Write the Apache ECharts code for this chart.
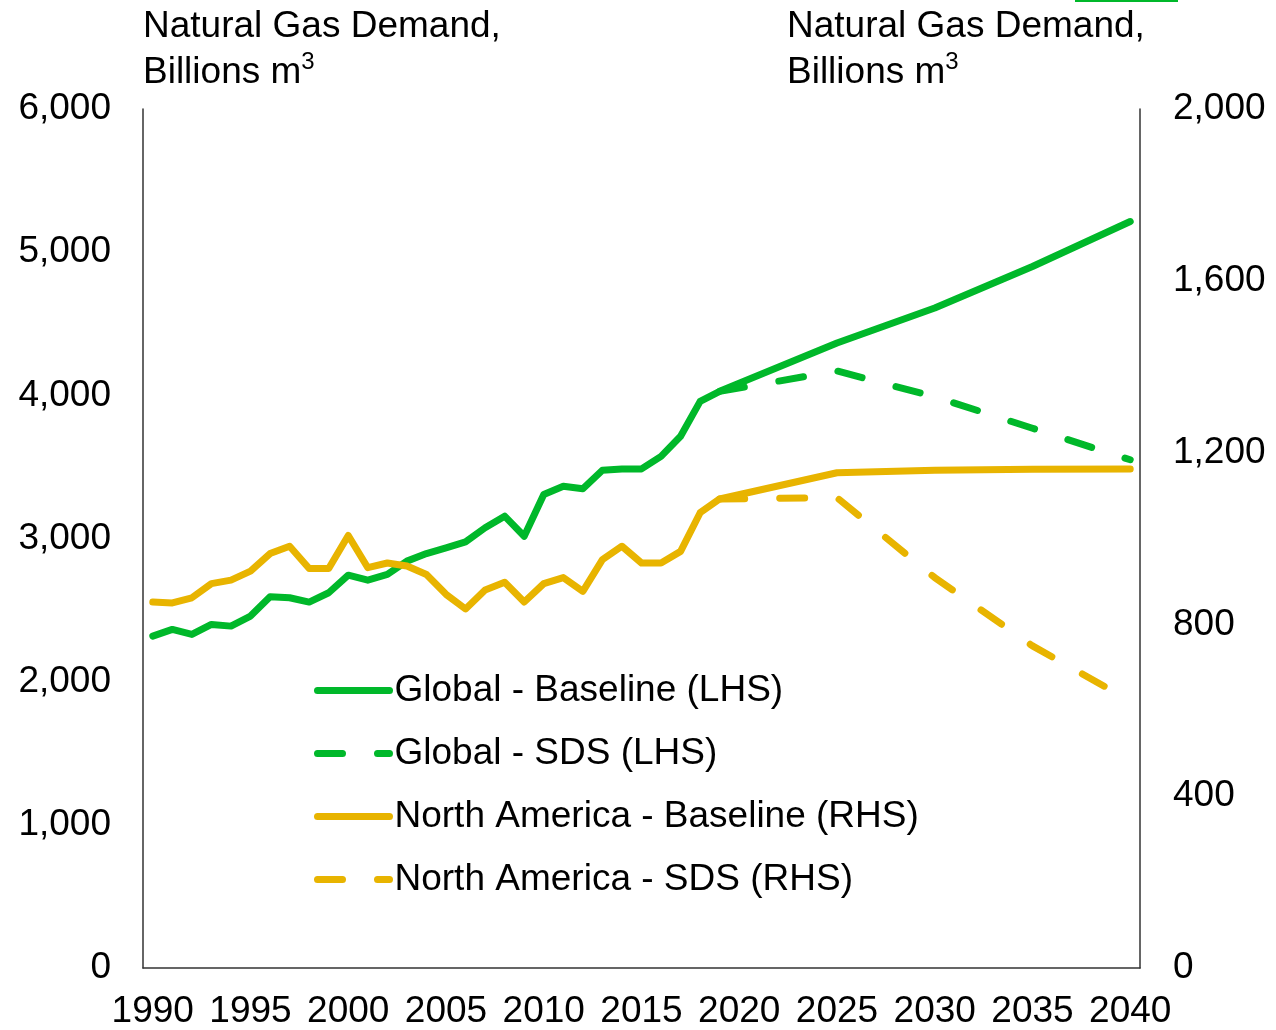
<!DOCTYPE html>
<html lang="en">
<head>
    <meta charset="UTF-8">
    <title>Natural Gas Demand</title>
    <script src="https://cdn.jsdelivr.net/npm/echarts@6/dist/echarts.min.js"></script>
    <style>
        *{
            margin: 0;
            padding: 0;
        }
        .container{
            width: 1276px;
            height: 1030px;
        }
    </style>
</head>
<body>
<div class="container"></div>
<script>
    // years 1990..2040
    let years=[]
    for (let y=1990;y<=2040;y++){
        years.push(String(y))
    }

    // LHS, billions m3 (null = no point, line joined across)
    let globalBase=[2318,2365,2330,2400,2388,2458,2593,2586,2556,2621,
        2744,2709,2749,2842,2895,2935,2977,3075,3156,3016,
        3307,3365,3347,3477,3486,3486,3574,3714,3958,4028,
        null,null,null,null,null,4365,null,null,null,null,
        4610,null,null,null,null,4900,null,null,null,null,5214]
    let globalSds=[null,null,null,null,null,null,null,null,null,null,
        null,null,null,null,null,null,null,null,null,null,
        null,null,null,null,null,null,null,null,null,4028,
        null,null,null,null,null,4170,null,null,null,null,
        3990,null,null,null,null,3770,null,null,null,null,3550]

    // RHS, billions m3
    let naBase=[852,850,862,895,903,924,965,982,930,930,
        1007,932,943,936,916,870,836,880,898,852,
        895,909,877,951,982,943,943,970,1060,1092,
        null,null,null,null,null,1153,null,null,null,null,
        1159,null,null,null,null,1161,null,null,null,null,1162]
    let naSds=[null,null,null,null,null,null,null,null,null,null,
        null,null,null,null,null,null,null,null,null,null,
        null,null,null,null,null,null,null,null,null,1092,
        null,null,null,null,null,1095,null,null,null,null,
        909,null,null,null,null,750,null,null,null,null,622]

    let names=['Global - Baseline (LHS)','Global - SDS (LHS)','North America - Baseline (RHS)','North America - SDS (RHS)']

    let green='#00b82a'
    let gold='#e8b400'
    let font='Liberation Sans'
    let fs=37

    let echart=echarts.init(document.querySelector('.container'))

    function line(name,data,color,yIdx,dashed){
        return {
            name,
            type:'line',
            data,
            yAxisIndex:yIdx,
            connectNulls:true,
            symbol:'none',
            animation:false,
            lineStyle:{
                color,
                width:7,
                type:dashed?[25,35]:'solid',
                cap:'round',
                join:'round'
            },
            itemStyle:{color}
        }
    }

    let titleRich={
        n:{fontSize:fs,color:'#000',lineHeight:46,fontFamily:font},
        s:{fontSize:24,color:'#000',lineHeight:30,verticalAlign:'top',fontFamily:font}
    }
    let titleText='{n|Natural Gas Demand,}\n{n|Billions m}{s|3}'

    let option={
        backgroundColor:'#ffffff',
        textStyle:{fontFamily:font},
        title:[{
            text:titleText,
            left:143,
            top:4,
            padding:0,
            textStyle:{fontSize:fs,fontWeight:'normal',lineHeight:46,rich:titleRich}
        },{
            text:titleText,
            left:787,
            top:4,
            padding:0,
            textStyle:{fontSize:fs,fontWeight:'normal',lineHeight:46,rich:titleRich}
        }],
        graphic:[{
            type:'rect',
            shape:{x:1075,y:0,width:103,height:2},
            style:{fill:green}
        }],
        legend:{
            orient:'vertical',
            left:309,
            top:667,
            itemWidth:72,
            itemHeight:14,
            itemGap:26,
            data:names,
            itemStyle:{opacity:0},
            lineStyle:{width:7,cap:'round'},
            textStyle:{fontSize:fs,color:'#000',fontFamily:font}
        },
        grid:{
            left:143,
            right:136,
            top:109,
            bottom:61
        },
        xAxis:{
            type:'category',
            data:years,
            boundaryGap:true,
            axisLine:{lineStyle:{color:'#333',width:1.5}},
            axisTick:{show:false},
            axisLabel:{interval:4,fontSize:fs,color:'#000',margin:25,fontFamily:font}
        },
        yAxis:[{
            type:'value',
            min:0,
            max:6000,
            interval:1000,
            splitLine:{show:false},
            axisLine:{show:true,lineStyle:{color:'#333',width:1.5}},
            axisTick:{show:false},
            axisLabel:{fontSize:fs,color:'#000',margin:32,fontFamily:font,
                formatter:v=>v.toLocaleString('en-US')}
        },{
            type:'value',
            min:0,
            max:2000,
            interval:400,
            splitLine:{show:false},
            axisLine:{show:true,lineStyle:{color:'#333',width:1.5}},
            axisTick:{show:false},
            axisLabel:{fontSize:fs,color:'#000',margin:33,fontFamily:font,
                formatter:v=>v.toLocaleString('en-US')}
        }],
        series:[
            line(names[0],globalBase,green,0,false),
            line(names[1],globalSds,green,0,true),
            line(names[2],naBase,gold,1,false),
            line(names[3],naSds,gold,1,true)
        ]
    }

    echart.setOption(option)
</script>
</body>
</html>
